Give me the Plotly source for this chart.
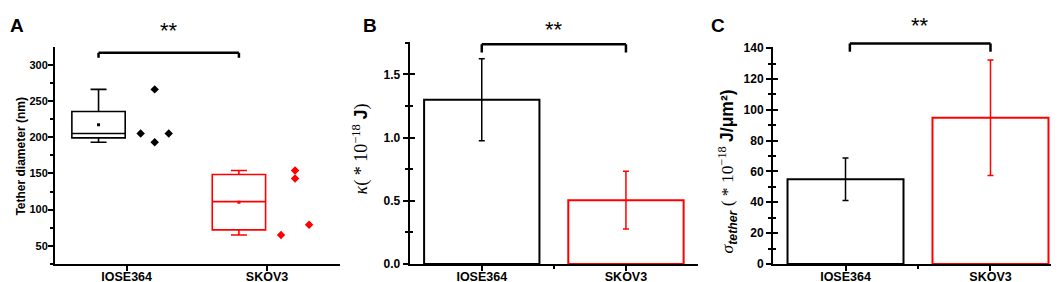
import numpy as np
import plotly.graph_objects as go

# ---------------- data ----------------
groups = ["IOSE364", "SKOV3"]
colors = ["#000000", "#ff0000"]

# Panel A: tether diameter (nm), individual measurements
diam_iose = [205, 266, 193, 205]
diam_skov = [65, 154, 143, 79]
diam_sets = [diam_iose, diam_skov]
point_offsets = [0.1, 0.2, 0.2, 0.3]

# Panel B: bending modulus kappa (*1e-18 J)
kappa_mean = [1.30, 0.505]
kappa_err = [0.325, 0.228]

# Panel C: tether tension (*1e-18 J/um^2)
sigma_mean = [55, 94.8]
sigma_err = [13.8, 37.5]

# tick labels
ticks_A = [50, 100, 150, 200, 250, 300]
ticks_B = [0.0, 0.5, 1.0, 1.5]
ticks_C = [0, 20, 40, 60, 80, 100, 120, 140]

significance = ["**", "**", "**"]

FONT = "Liberation Sans, Arial, sans-serif"
SERIF = "Liberation Serif, Times New Roman, serif"

fig = go.Figure()
cats = [1, 2]

# ---------- Panel A ----------
for i, (vals, col) in enumerate(zip(diam_sets, colors)):
    xc = cats[i] - 0.2
    fig.add_trace(go.Box(
        y=vals, x=[xc] * len(vals), width=0.38, whiskerwidth=0.3,
        quartilemethod="exclusive", boxpoints=False,
        line=dict(color=col, width=1.6), fillcolor="rgba(255,255,255,0)",
        xaxis="x", yaxis="y", showlegend=False, hoverinfo="skip"))
    fig.add_trace(go.Scatter(
        x=[xc], y=[float(np.mean(vals))], mode="markers",
        marker=dict(symbol="square", size=3, color=col),
        xaxis="x", yaxis="y", showlegend=False))
    fig.add_trace(go.Scatter(
        x=[cats[i] + o for o in point_offsets], y=vals, mode="markers",
        marker=dict(symbol="diamond", size=6.5, color=col),
        xaxis="x", yaxis="y", showlegend=False))

# ---------- Panel B ----------
for i, col in enumerate(colors):
    fig.add_trace(go.Bar(
        x=[cats[i]], y=[kappa_mean[i]], width=0.8,
        marker=dict(color="white", line=dict(color=col, width=2)),
        error_y=dict(type="data", array=[kappa_err[i]], color=col,
                     thickness=1.5, width=3),
        xaxis="x2", yaxis="y2", showlegend=False))

# ---------- Panel C ----------
for i, col in enumerate(colors):
    fig.add_trace(go.Bar(
        x=[cats[i]], y=[sigma_mean[i]], width=0.8,
        marker=dict(color="white", line=dict(color=col, width=2)),
        error_y=dict(type="data", array=[sigma_err[i]], color=col,
                     thickness=1.5, width=3),
        xaxis="x3", yaxis="y3", showlegend=False))

xtickfont = dict(family=FONT, size=12.5, color="black")

def xax(domain, rng, minor_vals=None):
    d = dict(domain=domain, range=rng, tickmode="array", tickvals=cats,
             ticktext=["<b>%s</b>" % g for g in groups], ticks="outside",
             ticklen=5, tickwidth=1.5,
             tickcolor="black", showline=True, linecolor="black", linewidth=2,
             showgrid=False, zeroline=False, tickfont=xtickfont,
             ticklabelstandoff=-5)
    if minor_vals:
        d["minor"] = dict(tickmode="array", tickvals=minor_vals, ticks="outside",
                          ticklen=3, tickwidth=1.5, tickcolor="black", showgrid=False)
    return d

def yax(domain, rng, tickvals, fmt, minor_dtick, anchor, ticks="outside",
        labels=True, overlay=None, fsize=12, standoff=0):
    d = dict(domain=domain, range=rng, tickmode="array", tickvals=tickvals,
             ticktext=["<b>" + fmt.format(v) + "</b>" for v in tickvals],
             ticks=ticks, ticklen=5, tickwidth=1.5, tickcolor="black",
             showgrid=False, zeroline=False, anchor=anchor,
             tickfont=dict(family=FONT, size=fsize, color="black"),
             showticklabels=labels, ticklabelstandoff=standoff,
             minor=dict(tickmode="linear", tick0=0, dtick=minor_dtick, ticks=ticks,
                        ticklen=3, tickwidth=1.5, tickcolor="black", showgrid=False))
    if overlay:
        d["overlaying"] = overlay
        d["showline"] = False
    else:
        d["showline"] = True
        d["linecolor"] = "black"
        d["linewidth"] = 2
    return d

dA = [0.0709, 0.8759]
dB = [0.0709, 0.8961]
dC = [0.0709, 0.8759]

fig.update_layout(
    width=1059, height=282, margin=dict(l=0, r=0, t=0, b=0),
    paper_bgcolor="white", plot_bgcolor="white", barmode="overlay",
    xaxis=xax([0.0444, 0.3135], [0.49, 2.52]),
    xaxis2=xax([0.3793, 0.6516], [0.5, 2.5], [1.5]),
    xaxis3=xax([0.7224, 0.9962], [0.5, 2.5], [1.5]),
    yaxis=yax(dA, [25, 324], ticks_A, "{:g}", 25, "x", fsize=11, standoff=-2),
    yaxis2=yax(dB, [0, 1.757], ticks_B, "{:.1f}", 0.25, "x2"),
    yaxis3=yax(dC, [0, 140.5], ticks_C, "{:g}", 10, "x3"),
    yaxis4=yax(dB, [0, 1.757], ticks_B, "{:.1f}", 0.25, "x2", ticks="inside",
               labels=False, overlay="y2"),
    yaxis5=yax(dC, [0, 140.5], ticks_C, "{:g}", 10, "x3", ticks="inside",
               labels=False, overlay="y3"),
)
# placeholder traces so the overlay (inner tick) axes render
fig.add_trace(go.Scatter(x=[1], y=[0], mode="markers", marker=dict(opacity=0),
                         xaxis="x2", yaxis="y4", showlegend=False, hoverinfo="skip"))
fig.add_trace(go.Scatter(x=[1], y=[0], mode="markers", marker=dict(opacity=0),
                         xaxis="x3", yaxis="y5", showlegend=False, hoverinfo="skip"))

# ---------- significance brackets ----------
brackets = [  # (xref, yref, x0, x1, ytop, ybottom, ytext)
    ("x", "y domain", cats[0] - 0.2, cats[1] - 0.2, 0.975, 0.952, 1.08),
    ("x2", "y2 domain", cats[0], cats[1], 0.99, 0.952, 1.058),
    ("x3", "y3 domain", cats[0] + 0.03, cats[1], 1.018, 0.98, 1.1),
]
shapes = []
annotations = []
for (xr, yr, x0, x1, yt, yb, ytx), sig in zip(brackets, significance):
    ln = dict(color="black", width=2.5)
    shapes.append(dict(type="line", xref=xr, yref=yr, x0=x0, x1=x1, y0=yt, y1=yt, line=ln))
    shapes.append(dict(type="line", xref=xr, yref=yr, x0=x0, x1=x0, y0=yt, y1=yb, line=ln))
    shapes.append(dict(type="line", xref=xr, yref=yr, x0=x1, x1=x1, y0=yt, y1=yb, line=ln))
    annotations.append(dict(xref=xr, yref=yr, x=(x0 + x1) / 2, y=ytx, text=sig,
                            showarrow=False, yanchor="middle",
                            font=dict(family=FONT, size=22, color="black")))

# panel letters
for letter, px in [("A", 9), ("B", 362), ("C", 710)]:
    annotations.append(dict(xref="paper", yref="paper", x=px / 1059, y=1 - 12 / 282,
                            text="<b>%s</b>" % letter, showarrow=False,
                            xanchor="center", yanchor="middle",
                            font=dict(family=FONT, size=19, color="black")))

# axis titles
annotations.append(dict(xref="paper", yref="paper", x=13.5 / 1059, y=1 - 150 / 282,
                        text="<b>Tether diameter (nm)</b>", textangle=-90, showarrow=False,
                        xanchor="center", yanchor="middle",
                        font=dict(family=FONT, size=12, color="black")))
annotations.append(dict(
    xref="paper", yref="paper", x=353 / 1059, y=1 - 142 / 282, textangle=-90,
    showarrow=False, xanchor="center", yanchor="middle",
    text=("<i>κ</i>( * 10<sup>−18</sup> "
          "<span style='font-family:Liberation Sans, Arial, sans-serif'><b>J</b></span>)"),
    font=dict(family=SERIF, size=18, color="black")))
annotations.append(dict(
    xref="paper", yref="paper", x=719 / 1059, y=1 - 165 / 282, textangle=-90,
    showarrow=False, xanchor="center", yanchor="middle",
    text=("<i>σ</i><sub><span style='font-family:Liberation Sans, Arial, sans-serif'>"
          "<b><i>tether</i></b></span></sub> ( * 10<sup>−18</sup> "
          "<span style='font-family:Liberation Sans, Arial, sans-serif'><b>J/μm²)</b></span>"),
    font=dict(family=SERIF, size=17.5, color="black")))

fig.update_layout(shapes=shapes, annotations=annotations)
fig.write_html("out.html")
